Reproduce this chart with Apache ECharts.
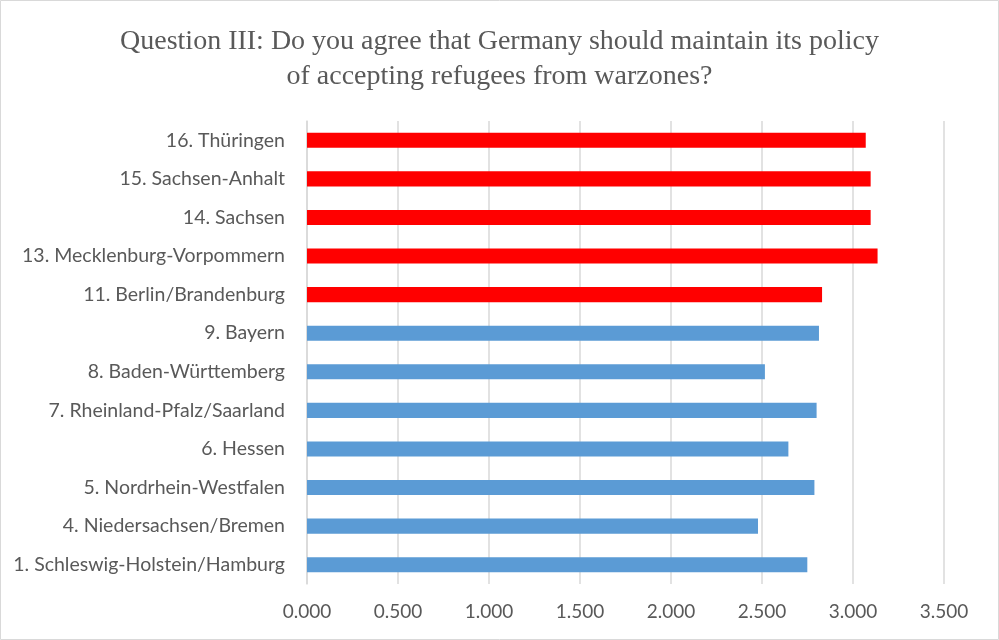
<!DOCTYPE html>
<html>
<head>
<meta charset="utf-8">
<script src="https://cdn.jsdelivr.net/npm/echarts@6/dist/echarts.min.js"></script>
<style>
  html, body { margin: 0; padding: 0; background: #fff; }
  #chart { width: 999px; height: 640px; }
</style>
</head>
<body>
<div id="chart"></div>
<script>
// States, listed bottom to top as drawn on the category axis
const states = [
  '1. Schleswig-Holstein/Hamburg',
  '4. Niedersachsen/Bremen',
  '5. Nordrhein-Westfalen',
  '6. Hessen',
  '7. Rheinland-Pfalz/Saarland',
  '8. Baden-Württemberg',
  '9. Bayern',
  '11. Berlin/Brandenburg',
  '13. Mecklenburg-Vorpommern',
  '14. Sachsen',
  '15. Sachsen-Anhalt',
  '16. Thüringen'
];
// Mean agreement score per state
const scores = [2.749, 2.478, 2.788, 2.645, 2.800, 2.516, 2.813, 2.830, 3.135, 3.097, 3.097, 3.070];
// Former East German states (incl. Berlin/Brandenburg)
const eastStates = ['11. Berlin/Brandenburg', '13. Mecklenburg-Vorpommern', '14. Sachsen', '15. Sachsen-Anhalt', '16. Thüringen'];
// x-axis ticks
const axisMin = 0, axisMax = 3.5, axisStep = 0.5;

const WEST_COLOR = '#5B9BD5';
const EAST_COLOR = '#FF0000';
const TEXT_COLOR = '#595959';
const GRID_COLOR = '#D9D9D9';

const chart = echarts.init(document.getElementById('chart'), null, { renderer: 'canvas' });

chart.setOption({
  backgroundColor: '#fff',
  animation: false,
  title: {
    text: 'Question III: Do you agree that Germany should maintain its policy\nof accepting refugees from warzones?',
    left: 'center',
    top: 19,
    textStyle: {
      fontFamily: '"Liberation Serif", "Times New Roman", serif',
      fontWeight: 'normal',
      fontSize: 28,
      lineHeight: 35,
      color: TEXT_COLOR,
      align: 'center'
    }
  },
  graphic: [{
    type: 'rect',
    shape: { x: 0.5, y: 0.5, width: 998, height: 639 },
    style: { fill: 'none', stroke: GRID_COLOR, lineWidth: 1 },
    silent: true
  }],
  grid: { left: 307, right: 55, top: 121, bottom: 56, containLabel: false },
  xAxis: {
    type: 'value',
    min: axisMin,
    max: axisMax,
    interval: axisStep,
    axisLine: { show: false },
    axisTick: { show: false },
    axisLabel: {
      formatter: v => v.toFixed(3),
      color: TEXT_COLOR,
      fontFamily: 'Lato, "Open Sans", sans-serif',
      fontSize: 19,
      margin: 18
    },
    splitLine: { show: true, lineStyle: { color: GRID_COLOR, width: 1.5 } }
  },
  yAxis: {
    type: 'category',
    data: states,
    axisLine: { show: true, lineStyle: { color: GRID_COLOR, width: 1.5 } },
    axisTick: { show: false },
    axisLabel: {
      color: TEXT_COLOR,
      fontFamily: 'Lato, "Open Sans", sans-serif',
      fontSize: 19.5,
      margin: 22
    }
  },
  series: [{
    type: 'bar',
    barWidth: '39%',
    data: scores.map((v, i) => ({
      value: v,
      itemStyle: { color: eastStates.includes(states[i]) ? EAST_COLOR : WEST_COLOR }
    }))
  }]
});
</script>
</body>
</html>
